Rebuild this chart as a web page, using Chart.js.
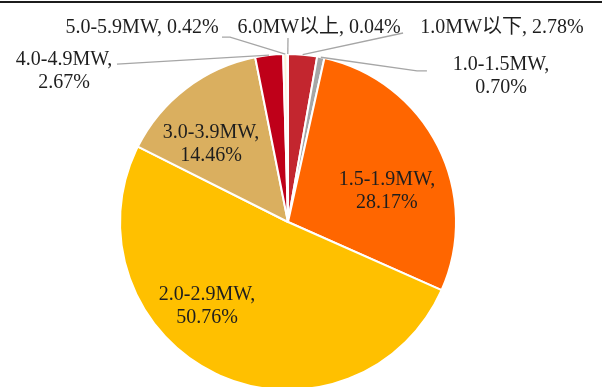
<!DOCTYPE html>
<html><head><meta charset="utf-8">
<script src="https://cdn.jsdelivr.net/npm/chart.js@4.4.0/dist/chart.umd.min.js"></script>
<style>
html,body{margin:0;padding:0;background:#fff;overflow:hidden;}
#wrap{position:relative;width:602px;height:387px;overflow:hidden;}
#rule{position:absolute;left:0;top:1px;width:602px;height:2px;background:#1c1c1c;}
canvas{position:absolute;left:0;top:0;}
</style></head><body>
<div id="wrap"><canvas id="c" width="602" height="400"></canvas><div id="rule"></div></div>
<script>
// Share of installed wind turbines by rated capacity class
const categories = ['1.0MW以下', '1.0-1.5MW', '1.5-1.9MW', '2.0-2.9MW', '3.0-3.9MW', '4.0-4.9MW', '5.0-5.9MW', '6.0MW以上'];
const shares = [2.78, 0.70, 28.17, 50.76, 14.46, 2.67, 0.42, 0.04];
const sliceColors = ['#C3262F', '#A6A6A6', '#FF6600', '#FFC000', '#DAAF5F', '#BF0019', '#FCEFD6', '#F2F2F2'];

// Label placement in units of the pie radius, measured from the pie centre.
// leader: points the connector runs to after leaving the slice edge.
const labelLayout = [
  { dx: 1.274, dy: -1.125, split: false, leader: [[0.685, -1.125]] },
  { dx: 1.268, dy: -0.905, split: true,  leader: [[0.768, -0.899], [0.827, -0.899]] },
  { dx: 0.589, dy: -0.220, split: true },
  { dx: -0.482, dy: 0.464, split: true },
  { dx: -0.458, dy: -0.500, split: true },
  { dx: -1.333, dy: -0.935, split: true,  leader: [[-1.018, -0.940]] },
  { dx: -0.869, dy: -1.125, split: false, leader: [[-0.345, -1.101], [-0.393, -1.101]] },
  { dx: 0.185, dy: -1.125, split: false, leader: [[0, -1.095]] }
];

const sliceLabels = {
  id: 'sliceLabels',
  afterDatasetsDraw(chart) {
    const ctx = chart.ctx;
    const arcs = chart.getDatasetMeta(0).data;
    const cx = arcs[0].x, cy = arcs[0].y, r = arcs[0].outerRadius;
    ctx.save();
    ctx.strokeStyle = '#A6A6A6';
    ctx.lineWidth = 1.3;
    arcs.forEach((arc, i) => {
      const L = labelLayout[i];
      if (!L.leader) return;
      const mid = (arc.startAngle + arc.endAngle) / 2;
      ctx.beginPath();
      ctx.moveTo(cx + Math.cos(mid) * r, cy + Math.sin(mid) * r);
      L.leader.forEach(p => ctx.lineTo(cx + p[0] * r, cy + p[1] * r));
      ctx.stroke();
    });
    ctx.font = '20px "Liberation Serif", "Noto Sans CJK SC", serif';
    ctx.fillStyle = '#1E1E1E';
    ctx.textAlign = 'center';
    ctx.textBaseline = 'alphabetic';
    arcs.forEach((arc, i) => {
      const L = labelLayout[i];
      const pct = shares[i].toFixed(2) + '%';
      const x = cx + L.dx * r, y = cy + L.dy * r;
      if (L.split) {
        ctx.fillText(categories[i] + ',', x, y);
        ctx.fillText(pct, x, y + 23);
      } else {
        ctx.fillText(categories[i] + ', ' + pct, x, y);
      }
    });
    ctx.restore();
  }
};

new Chart(document.getElementById('c'), {
  type: 'pie',
  data: {
    labels: categories,
    datasets: [{
      data: shares,
      backgroundColor: sliceColors,
      borderColor: '#FFFFFF',
      borderWidth: 2
    }]
  },
  options: {
    responsive: false,
    animation: false,
    layout: { padding: { left: 119, right: 145, top: 53, bottom: 9 } },
    plugins: { legend: { display: false }, tooltip: { enabled: false } }
  },
  plugins: [sliceLabels]
});
</script>
</body></html>
